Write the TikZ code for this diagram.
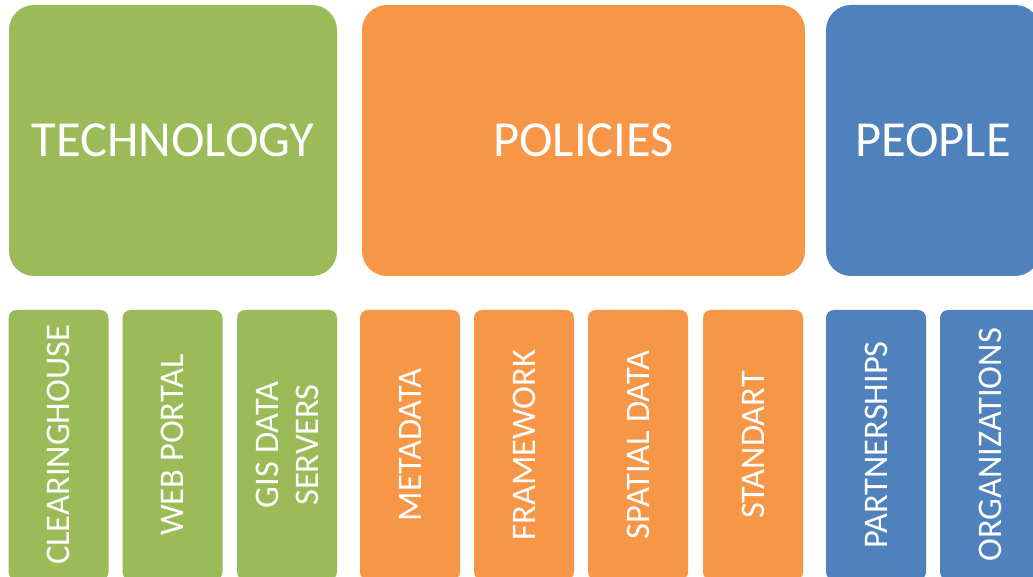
\documentclass[tikz,border=0pt]{standalone}
\usepackage{fontspec}
\setmainfont{Carlito}
\definecolor{techgreen}{HTML}{9BBB59}
\definecolor{polorange}{HTML}{F79646}
\definecolor{peopleblue}{HTML}{4F81BD}
\tikzset{
  bigbox/.style={rectangle, rounded corners=25pt, minimum height=271pt,
    inner sep=0pt, text=white, font=\fontsize{50.5}{54}\selectfont},
  subbox/.style={rectangle, rounded corners=8pt, rotate=90,
    minimum width=270pt, minimum height=100pt, inner sep=0pt,
    text=white, align=center, font=\fontsize{34.5}{40}\selectfont}
}
\begin{document}
\begin{tikzpicture}[x=1pt, y=1pt]
    \clip (0,0) rectangle (1033,577);

    % main groups
    \node[bigbox, fill=techgreen, minimum width=328pt] (tech) at (173,436.5) {TECHNOLOGY};
    \node[bigbox, fill=polorange, minimum width=443pt] (pol) at (583.5,436.5) {POLICIES};
    \node[bigbox, fill=peopleblue, minimum width=214pt] (peop) at (933,436.5) {PEOPLE};

    % components
    \node[subbox, fill=techgreen] (clear) at (58.5,132) {CLEARINGHOUSE};
    \node[subbox, fill=techgreen] (portal) at (172.5,132) {WEB PORTAL};
    \node[subbox, fill=techgreen] (gis) at (287,132) {GIS DATA\\SERVERS};
    \node[subbox, fill=polorange] (meta) at (410,132) {METADATA};
    \node[subbox, fill=polorange] (frame) at (524,132) {FRAMEWORK};
    \node[subbox, fill=polorange] (spatial) at (638,132) {SPATIAL DATA};
    \node[subbox, fill=polorange] (stand) at (753,132) {STANDART};
    \node[subbox, fill=peopleblue] (partner) at (876,132) {PARTNERSHIPS};
    \node[subbox, fill=peopleblue] (org) at (990,132) {ORGANIZATIONS};
%    \draw (tech) -- (clear);

\end{tikzpicture}
\end{document}
